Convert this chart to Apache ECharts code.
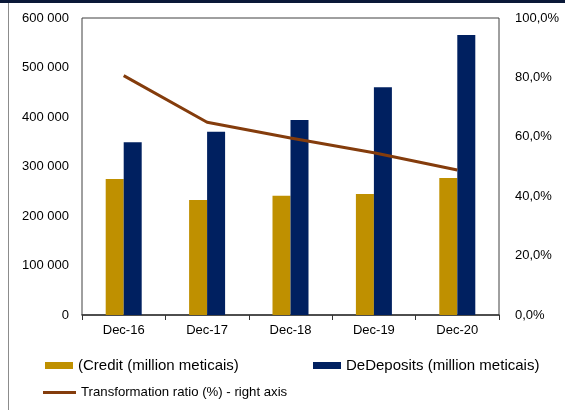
<!DOCTYPE html>
<html>
<head>
<meta charset="utf-8">
<script src="https://cdn.jsdelivr.net/npm/echarts@6/dist/echarts.min.js"></script>
<style>
  html, body { margin: 0; padding: 0; background: #fff; }
  #chart { width: 565px; height: 410px; }
</style>
</head>
<body>
<div id="chart"></div>
<script>
// Categories and series values
const categories = ['Dec-16', 'Dec-17', 'Dec-18', 'Dec-19', 'Dec-20'];
const credit = [274700, 232300, 241000, 244400, 276800];
const deposits = [348900, 370300, 393900, 460000, 565700];
const transformationRatio = [80.6, 64.9, 59.6, 54.6, 48.8];

// Axis tick labels
const leftTickLabels = ['0', '100 000', '200 000', '300 000', '400 000', '500 000', '600 000'];
const rightTickLabels = ['0,0%', '20,0%', '40,0%', '60,0%', '80,0%', '100,0%'];

// Legend names
const creditName = '(Credit (million meticais)';
const depositsName = 'DeDeposits (million meticais)';
const ratioName = 'Transformation ratio (%) - right axis';

const FONT = '"Liberation Sans", Arial, sans-serif';
const chart = echarts.init(document.getElementById('chart'), null, { renderer: 'canvas' });

const legendTextLarge = { color: '#000', fontSize: 15, fontFamily: FONT };
const legendTextSmall = { color: '#000', fontSize: 13.2, fontFamily: FONT };

chart.setOption({
  animation: false,
  backgroundColor: '#fff',
  textStyle: { fontFamily: FONT },
  graphic: [
    { type: 'rect', shape: { x: 0, y: 0, width: 565, height: 3 }, style: { fill: '#0a1838' }, silent: true },
    { type: 'line', shape: { x1: 8.5, y1: 3, x2: 8.5, y2: 410 }, style: { stroke: '#8c8c8c', lineWidth: 1 }, silent: true }
  ],
  grid: {
    left: 82, right: 66, top: 18, bottom: 95,
    show: true, borderColor: '#404040', borderWidth: 1, backgroundColor: 'transparent'
  },
  legend: [
    {
      left: 45, top: 358, itemWidth: 28, itemHeight: 7, itemGap: 0,
      data: [{ name: creditName, icon: 'rect' }], textStyle: legendTextLarge, padding: 0
    },
    {
      left: 313, top: 358, itemWidth: 28, itemHeight: 7, itemGap: 0,
      data: [{ name: depositsName, icon: 'rect' }], textStyle: legendTextLarge, padding: 0
    },
    {
      left: 43, top: 386, itemWidth: 33, itemHeight: 3, itemGap: 0,
      data: [{ name: ratioName, icon: 'rect' }], textStyle: legendTextSmall, padding: 0
    }
  ],
  xAxis: {
    type: 'category',
    data: categories,
    axisLine: { lineStyle: { color: '#333', width: 1.5 } },
    axisTick: { show: true, length: 5, lineStyle: { color: '#333' } },
    axisLabel: { color: '#000', fontSize: 13, margin: 9, fontFamily: FONT },
    splitLine: { show: false }
  },
  yAxis: [
    {
      type: 'value', min: 0, max: 600000, interval: 100000,
      axisLine: { show: false }, axisTick: { show: false }, splitLine: { show: false },
      axisLabel: {
        color: '#000', fontSize: 13, margin: 13, fontFamily: FONT,
        formatter: (v, i) => leftTickLabels[i]
      }
    },
    {
      type: 'value', min: 0, max: 100, interval: 20,
      axisLine: { show: false }, axisTick: { show: false }, splitLine: { show: false },
      axisLabel: {
        color: '#000', fontSize: 13, margin: 16, fontFamily: FONT,
        formatter: (v, i) => rightTickLabels[i]
      }
    }
  ],
  series: [
    {
      name: creditName, type: 'bar', data: credit, barWidth: 18, barGap: '0%',
      itemStyle: { color: '#BF9000' }
    },
    {
      name: depositsName, type: 'bar', data: deposits, barWidth: 18, barGap: '0%',
      itemStyle: { color: '#002060' }
    },
    {
      name: ratioName, type: 'line', yAxisIndex: 1, data: transformationRatio,
      symbol: 'none', lineStyle: { color: '#843C0C', width: 3 }, itemStyle: { color: '#843C0C' }
    }
  ]
});
</script>
</body>
</html>
